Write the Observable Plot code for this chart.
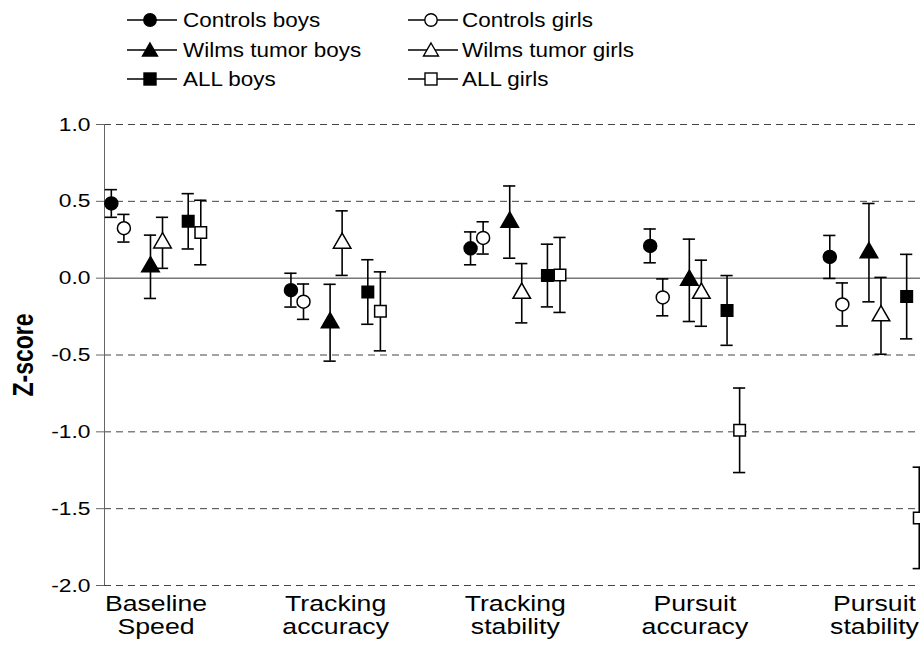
<!DOCTYPE html>
<html>
<head>
<meta charset="utf-8">
<script src="https://cdn.jsdelivr.net/npm/d3@7"></script>
<script src="https://cdn.jsdelivr.net/npm/@observablehq/plot@0.6"></script>
<style>
  html, body { margin: 0; padding: 0; background: #fff; }
  body { width: 920px; height: 658px; overflow: hidden; font-family: "Liberation Sans", Arial, sans-serif; }
  #legend { position: relative; height: 90px; width: 920px; }
  .lsym { position: absolute; }
  .ltxt { position: absolute; font-size: 19.5px; line-height: 20px; color: #000; white-space: nowrap;
          transform: scaleX(1.15); transform-origin: left center; }
  #chart svg { display: block; font-family: "Liberation Sans", Arial, sans-serif; }
  #chart [aria-label="y-axis label"] text { font-weight: bold; font-size: 23px; }
</style>
</head>
<body>
<div id="legend"></div>
<div id="chart"></div>
<script>
// ---- data ----
const categories = ["Baseline\nSpeed", "Tracking\naccuracy", "Tracking\nstability", "Pursuit\naccuracy", "Pursuit\nstability"];
const seriesNames = ["Controls boys", "Controls girls", "Wilms tumor boys", "Wilms tumor girls", "ALL boys", "ALL girls"];
const controlsBoys     = [0.486, -0.078, 0.194, 0.21, 0.138];
const controlsGirls    = [0.325, -0.153, 0.262, -0.125, -0.171];
const wilmsBoys        = [0.074, -0.29, 0.365, -0.014, 0.166];
const wilmsGirls       = [0.23, 0.228, -0.098, -0.098, -0.245];
const allBoys          = [0.37, -0.09, 0.017, -0.21, -0.12];
const allGirls         = [0.297, -0.216, 0.021, -0.99, -1.56];
const controlsBoysErr  = [0.09, 0.11, 0.107, 0.11, 0.14];
const controlsGirlsErr = [0.09, 0.115, 0.105, 0.12, 0.14];
const wilmsBoysErr     = [0.206, 0.25, 0.235, 0.268, 0.32];
const wilmsGirlsErr    = [0.166, 0.21, 0.193, 0.215, 0.25];
const allBoysErr       = [0.18, 0.21, 0.204, 0.227, 0.275];
const allGirlsErr      = [0.21, 0.257, 0.244, 0.275, 0.33];
const yTicks = [1.0, 0.5, 0.0, -0.5, -1.0, -1.5, -2.0];

// ---- build table ----
const means = [controlsBoys, controlsGirls, wilmsBoys, wilmsGirls, allBoys, allGirls];
const errs = [controlsBoysErr, controlsGirlsErr, wilmsBoysErr, wilmsGirlsErr, allBoysErr, allGirlsErr];
const symbols = ["circle", "circle", "triangle", "triangle", "square", "square"];
const fills = ["black", "white", "black", "white", "black", "white"];
const offsets = [-0.249, -0.179, -0.031, 0.036, 0.179, 0.249];
const rows = [];
seriesNames.forEach((s, si) => {
  categories.forEach((c, ci) => {
    rows.push({
      series: s, cat: ci, x: ci + offsets[si],
      y: means[si][ci], lo: means[si][ci] - errs[si][ci], hi: means[si][ci] + errs[si][ci],
      symbol: symbols[si], fill: fills[si]
    });
  });
});

// ---- legend ----
const legend = document.getElementById("legend");
const colX = [[127, 183], [408, 462]];
const rowY = [20, 49.5, 79];
const symbolPaths = {
  circle: (f) => `<circle cx="23" cy="10" r="6.2" fill="${f}" stroke="black" stroke-width="1.4"/>`,
  triangle: (f) => `<path d="M23,3 L30.5,16 L15.5,16 Z" fill="${f}" stroke="black" stroke-width="1.4"/>`,
  square: (f) => `<rect x="17" y="4" width="12" height="12" fill="${f}" stroke="black" stroke-width="1.4"/>`
};
seriesNames.forEach((s, i) => {
  const col = i % 2, row = Math.floor(i / 2);
  const sym = document.createElement("div");
  sym.className = "lsym";
  sym.style.left = colX[col][0] + "px";
  sym.style.top = (rowY[row] - 10) + "px";
  sym.innerHTML = `<svg width="50" height="20" style="display:block"><line x1="0" y1="10" x2="50" y2="10" stroke="black" stroke-width="1.5"/>${symbolPaths[symbols[i]](fills[i])}</svg>`;
  legend.appendChild(sym);
  const t = document.createElement("div");
  t.className = "ltxt";
  t.style.left = colX[col][1] + "px";
  t.style.top = (rowY[row] - 10) + "px";
  t.textContent = s;
  legend.appendChild(t);
});

// ---- chart ----
const chart = Plot.plot({
  width: 920,
  height: 568,
  marginLeft: 104,
  marginRight: 0,
  marginTop: 34,
  marginBottom: 73,
  x: { domain: [-0.287, 4.256], axis: null },
  y: { domain: [-2, 1], ticks: yTicks, label: "Z-score" },
  symbol: { type: "identity" },
  marks: [
    Plot.ruleY(yTicks.filter(d => d !== 0), { stroke: "#444", strokeWidth: 1, strokeDasharray: "7,5" }),
    Plot.ruleY([0], { stroke: "#333", strokeWidth: 1 }),
    Plot.ruleX([-0.287], { y1: -2, y2: 1, stroke: "#666", strokeWidth: 1 }),
    Plot.axisY({
      ticks: yTicks, tickFormat: d => d.toFixed(1), tickSize: 8, tickPadding: 6,
      fontSize: 19, stroke: "#666", label: "Z-score", labelAnchor: "center", labelArrow: "none", labelOffset: 92
    }),
    Plot.ruleX(rows, { x: "x", y1: "lo", y2: "hi", stroke: "black", strokeWidth: 1.6 }),
    Plot.ruleY(rows, { y: "hi", x1: d => d.x - 0.034, x2: d => d.x + 0.034, stroke: "black", strokeWidth: 1.6 }),
    Plot.ruleY(rows, { y: "lo", x1: d => d.x - 0.034, x2: d => d.x + 0.034, stroke: "black", strokeWidth: 1.6 }),
    Plot.dot(rows, { x: "x", y: "y", symbol: "symbol", fill: "fill", stroke: "black", strokeWidth: 1.5, r: 6.5 }),
    Plot.text(categories, {
      x: (d, i) => i, y: -2, text: d => d, dy: 9, lineAnchor: "top", lineHeight: 1.08,
      fontSize: 21.5, fill: "black", className: "catlabels"
    })
  ]
});
document.getElementById("chart").appendChild(chart);

// the reference's lettering is drawn horizontally widened; widen each text about its own anchor
function num(v) { return (v != null && /^-?[\d.]+(e-?\d+)?$/.test(v.trim())) ? +v : 0; }
function widen(el, sx, sy) {
  const t = el.getAttribute("transform") || "";
  const x = num(el.getAttribute("x")), y = num(el.getAttribute("y"));
  el.setAttribute("transform", `${t} translate(${x},${y}) scale(${sx},${sy}) translate(${-x},${-y})`.trim());
}
chart.querySelectorAll('[aria-label="y-axis tick label"] text').forEach(el => widen(el, 1.2, 1));
chart.querySelectorAll('.catlabels text').forEach(el => widen(el, 1.24, 1));
chart.querySelectorAll('[aria-label="y-axis label"] text').forEach(el => widen(el, 1, 1.27));
</script>
</body>
</html>
